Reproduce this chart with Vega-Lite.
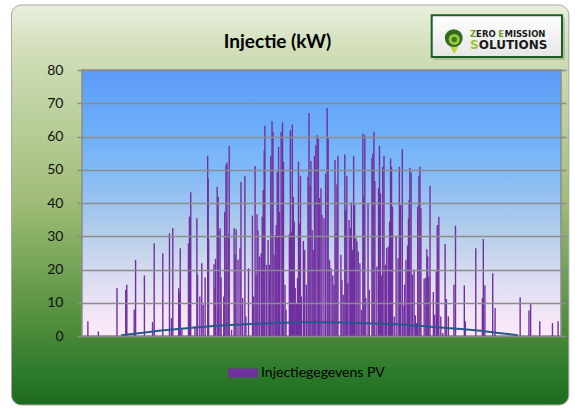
{
  "$schema": "https://vega.github.io/schema/vega-lite/v6.json",
  "width": 489,
  "height": 266,
  "autosize": {"type": "none"},
  "padding": {"left": 77, "top": 70, "right": 9, "bottom": 74},
  "background": "#ffffff",
  "title": {"text": "Injectie (kW)", "font": "Lato", "fontSize": 19, "fontWeight": "bold", "color": "#000000", "anchor": "middle", "frame": "group", "dx": -44, "offset": -48},
  "config": {
    "view": {"stroke": null},
    "axisY": {"orient": "left", "values": [0, 10, 20, 30, 40, 50, 60, 70, 80], "labelOverlap": false, "grid": true, "ticks": false, "domain": false, "labelPadding": 14, "labelFont": "Lato", "labelFontSize": 14, "labelColor": "#111111", "gridColor": "#8c8c8c", "gridWidth": 1.3, "zindex": 1}
  },
  "layer": [
    {
      "data": {"values": [{}]},
      "mark": {"type": "rect", "cornerRadius": 10, "stroke": "#a6a6a6", "strokeWidth": 1, "fill": {"gradient": "linear", "x1": 0, "y1": 0, "x2": 0, "y2": 1, "stops": [{"offset": 0, "color": "#e8efdd"}, {"offset": 0.11, "color": "#d2dfba"}, {"offset": 0.49, "color": "#a0bd78"}, {"offset": 0.82, "color": "#4a8a38"}, {"offset": 0.92, "color": "#2c7a2c"}, {"offset": 1, "color": "#1e6a1e"}]}},
      "encoding": {"x": {"datum": -72, "type": "quantitative", "axis": null}, "x2": {"datum": 497}, "y": {"datum": 99.55, "type": "quantitative", "scale": {"domain": [0, 80], "nice": false}, "axis": {"values": [0, 10, 20, 30, 40, 50, 60, 70, 80], "title": null, "zindex": 1}}, "y2": {"datum": -20.75}}
    },
    {
      "data": {"values": [{}]},
      "mark": {"type": "rect", "fill": "#9aa88f", "opacity": 0.6},
      "encoding": {"x": {"datum": 359, "type": "quantitative", "axis": null}, "x2": {"datum": 493}, "y": {"datum": 95.9, "type": "quantitative", "axis": {"values": [0, 10, 20, 30, 40, 50, 60, 70, 80], "title": null, "zindex": 1}}, "y2": {"datum": 83}}
    },
    {
      "data": {"values": [{}]},
      "mark": {"type": "rect", "stroke": "#1d5c24", "strokeWidth": 2, "fill": {"gradient": "linear", "x1": 0, "y1": 0, "x2": 0, "y2": 1, "stops": [{"offset": 0, "color": "#ffffff"}, {"offset": 1, "color": "#e6e6e6"}]}},
      "encoding": {"x": {"datum": 357, "type": "quantitative", "axis": null}, "x2": {"datum": 490}, "y": {"datum": 96.5, "type": "quantitative", "axis": {"values": [0, 10, 20, 30, 40, 50, 60, 70, 80], "title": null, "zindex": 1}}, "y2": {"datum": 83.9}}
    },
    {
      "data": {"values": [{}]},
      "mark": {"type": "point", "filled": true, "shape": "triangle-down", "size": 70, "color": "#b8d84a", "opacity": 1},
      "encoding": {"x": {"datum": 380, "type": "quantitative", "axis": null}, "y": {"datum": 85.9, "type": "quantitative", "axis": {"values": [0, 10, 20, 30, 40, 50, 60, 70, 80], "title": null, "zindex": 1}}}
    },
    {
      "data": {"values": [{}]},
      "mark": {"type": "point", "filled": true, "shape": "circle", "size": 320, "color": "#336b1f", "opacity": 1},
      "encoding": {"x": {"datum": 379.5, "type": "quantitative", "axis": null}, "y": {"datum": 89.6, "type": "quantitative", "axis": {"values": [0, 10, 20, 30, 40, 50, 60, 70, 80], "title": null, "zindex": 1}}}
    },
    {
      "data": {"values": [{}]},
      "mark": {"type": "point", "filled": true, "shape": "circle", "size": 120, "color": "#9ccc3c", "opacity": 1},
      "encoding": {"x": {"datum": 380, "type": "quantitative", "axis": null}, "y": {"datum": 89.2, "type": "quantitative", "axis": {"values": [0, 10, 20, 30, 40, 50, 60, 70, 80], "title": null, "zindex": 1}}}
    },
    {
      "data": {"values": [{}]},
      "mark": {"type": "point", "filled": true, "shape": "circle", "size": 30, "color": "#3f7a1f", "opacity": 1},
      "encoding": {"x": {"datum": 380, "type": "quantitative", "axis": null}, "y": {"datum": 89.2, "type": "quantitative", "axis": {"values": [0, 10, 20, 30, 40, 50, 60, 70, 80], "title": null, "zindex": 1}}}
    },
    {
      "data": {"values": [{"label": "ERO", "pos": 402.3}, {"label": "MISSION", "pos": 431.3}]},
      "mark": {"type": "text", "align": "left", "baseline": "middle", "font": "DejaVu Sans", "fontWeight": "bold", "fontSize": 8.5, "color": "#1a1a1a"},
      "encoding": {"x": {"field": "pos", "type": "quantitative", "axis": null}, "y": {"datum": 90.9, "type": "quantitative", "axis": {"values": [0, 10, 20, 30, 40, 50, 60, 70, 80], "title": null, "zindex": 1}}, "text": {"field": "label"}}
    },
    {
      "data": {"values": [{"label": "Z", "pos": 396}, {"label": "E", "pos": 425}]},
      "mark": {"type": "text", "align": "left", "baseline": "middle", "font": "DejaVu Sans", "fontWeight": "bold", "fontSize": 8.5, "color": "#6aa32a"},
      "encoding": {"x": {"field": "pos", "type": "quantitative", "axis": null}, "y": {"datum": 90.9, "type": "quantitative", "axis": {"values": [0, 10, 20, 30, 40, 50, 60, 70, 80], "title": null, "zindex": 1}}, "text": {"field": "label"}}
    },
    {
      "data": {"values": [{"label": "OLUTIONS"}]},
      "mark": {"type": "text", "align": "left", "baseline": "middle", "font": "DejaVu Sans", "fontWeight": "bold", "fontSize": 12, "color": "#1a1a1a"},
      "encoding": {"x": {"datum": 405, "type": "quantitative", "axis": null}, "y": {"datum": 87.6, "type": "quantitative", "axis": {"values": [0, 10, 20, 30, 40, 50, 60, 70, 80], "title": null, "zindex": 1}}, "text": {"field": "label"}}
    },
    {
      "data": {"values": [{"label": "S"}]},
      "mark": {"type": "text", "align": "left", "baseline": "middle", "font": "DejaVu Sans", "fontWeight": "bold", "fontSize": 12, "color": "#9bc23c"},
      "encoding": {"x": {"datum": 396, "type": "quantitative", "axis": null}, "y": {"datum": 87.6, "type": "quantitative", "axis": {"values": [0, 10, 20, 30, 40, 50, 60, 70, 80], "title": null, "zindex": 1}}, "text": {"field": "label"}}
    },
    {
      "data": {"values": [{}]},
      "mark": {"type": "rect", "stroke": "#8c8c8c", "strokeWidth": 1.5, "fill": {"gradient": "linear", "x1": 0, "y1": 0, "x2": 0, "y2": 1, "stops": [{"offset": 0, "color": "#5c9cf8"}, {"offset": 0.25, "color": "#6fb0fa"}, {"offset": 0.4, "color": "#86bcf6"}, {"offset": 0.5, "color": "#9cc3ef"}, {"offset": 0.625, "color": "#b8cfea"}, {"offset": 0.75, "color": "#d4daf0"}, {"offset": 0.875, "color": "#ebe3f5"}, {"offset": 1, "color": "#fdeaf8"}]}},
      "encoding": {"x": {"datum": 0, "type": "quantitative", "axis": null}, "x2": {"datum": 489}, "y": {"datum": 80, "type": "quantitative", "axis": {"values": [0, 10, 20, 30, 40, 50, 60, 70, 80], "title": null, "zindex": 1}}, "y2": {"datum": 0}}
    },
    {
      "data": {"values": [
        {"t": 6, "kw": 4.4}, {"t": 16.7, "kw": 1.4}, {"t": 35.7, "kw": 14.4}, {"t": 44.7, "kw": 13.9}, {"t": 45.3, "kw": 13.5}, {"t": 45.7, "kw": 15.4}, {"t": 53.3, "kw": 7.9}, {"t": 54.7, "kw": 22.9}, {"t": 63.7, "kw": 18.2}, {"t": 72, "kw": 4.2}, {"t": 73.7, "kw": 27.9},
        {"t": 82.5, "kw": 24.9}, {"t": 89.3, "kw": 30.9}, {"t": 91.3, "kw": 5.4}, {"t": 92.7, "kw": 32.4}, {"t": 98.7, "kw": 14.4}, {"t": 99.3, "kw": 12.9}, {"t": 100.3, "kw": 26.4}, {"t": 102, "kw": 2.4}, {"t": 108.7, "kw": 27.9}, {"t": 109.7, "kw": 35.9}, {"t": 110.3, "kw": 29}, {"t": 111, "kw": 43.2}, {"t": 115.3, "kw": 2.9}, {"t": 117.3, "kw": 35.4}, {"t": 118, "kw": 18.4}, {"t": 120.3, "kw": 11.9}, {"t": 122.3, "kw": 21.9}, {"t": 123.7, "kw": 9.4}, {"t": 125.7, "kw": 17.6}, {"t": 128.3, "kw": 54.2}, {"t": 128.8, "kw": 47.4}, {"t": 129.3, "kw": 29.1}, {"t": 134.7, "kw": 21.6}, {"t": 135.7, "kw": 14.6}, {"t": 136.3, "kw": 23.2}, {"t": 138, "kw": 44.9}, {"t": 139, "kw": 41.9}, {"t": 139.6, "kw": 31.6}, {"t": 141, "kw": 32.4}, {"t": 142, "kw": 17.7}, {"t": 144.7, "kw": 11.9}, {"t": 145.7, "kw": 37.4}, {"t": 147, "kw": 51.4}, {"t": 148, "kw": 52.1}, {"t": 149.3, "kw": 30.6}, {"t": 150.3, "kw": 57.2}, {"t": 152.7, "kw": 1.9}, {"t": 155.3, "kw": 32.4}, {"t": 156.3, "kw": 24.6}, {"t": 157.3, "kw": 32.1}, {"t": 159.3, "kw": 22.9}, {"t": 161.3, "kw": 26.4}, {"t": 162.3, "kw": 46.4},
        {"t": 164, "kw": 11.4}, {"t": 166.3, "kw": 48.2}, {"t": 167.3, "kw": 5.9}, {"t": 170, "kw": 20.4}, {"t": 174, "kw": 36.2}, {"t": 175.3, "kw": 11.9}, {"t": 176.7, "kw": 51.1}, {"t": 177.7, "kw": 18.4}, {"t": 178.7, "kw": 36.6}, {"t": 179.7, "kw": 31.7}, {"t": 181.3, "kw": 23.9}, {"t": 183, "kw": 24.9}, {"t": 184, "kw": 35.9}, {"t": 185, "kw": 43.9}, {"t": 186, "kw": 55.9}, {"t": 186.7, "kw": 63.2}, {"t": 188.3, "kw": 21.4}, {"t": 190, "kw": 28.9}, {"t": 191.3, "kw": 21.4}, {"t": 192.7, "kw": 54.1}, {"t": 194, "kw": 64.6}, {"t": 195, "kw": 61.4}, {"t": 196, "kw": 24.4}, {"t": 197.3, "kw": 30.4}, {"t": 198.3, "kw": 33.4}, {"t": 199.3, "kw": 49.4}, {"t": 200.7, "kw": 56.9}, {"t": 201.7, "kw": 37.4}, {"t": 203.3, "kw": 61.4}, {"t": 204.7, "kw": 64.2}, {"t": 205.7, "kw": 52.4}, {"t": 207.3, "kw": 15.4}, {"t": 208.3, "kw": 7.9}, {"t": 211.7, "kw": 30.6}, {"t": 212.7, "kw": 61.9}, {"t": 213.7, "kw": 31.4}, {"t": 214.7, "kw": 63.6}, {"t": 215.7, "kw": 41.9}, {"t": 216.7, "kw": 34.4}, {"t": 217.7, "kw": 14.4}, {"t": 219, "kw": 9.9}, {"t": 220, "kw": 17.4}, {"t": 221, "kw": 52.4}, {"t": 222, "kw": 33.9}, {"t": 223, "kw": 48.2}, {"t": 224, "kw": 11.9}, {"t": 226, "kw": 28.6}, {"t": 227.3, "kw": 25.9}, {"t": 229, "kw": 15.4}, {"t": 230.7, "kw": 47.9}, {"t": 231.7, "kw": 67.1}, {"t": 232.7, "kw": 45.2}, {"t": 233.7, "kw": 52.6}, {"t": 235, "kw": 31.9}, {"t": 236, "kw": 25.9}, {"t": 237.3, "kw": 54.2}, {"t": 238.7, "kw": 57.4}, {"t": 240, "kw": 60.4}, {"t": 241.3, "kw": 59.4}, {"t": 242.7, "kw": 41.4}, {"t": 244, "kw": 44.4}, {"t": 245, "kw": 36.4},
        {"t": 247, "kw": 35.4}, {"t": 248.7, "kw": 48.9}, {"t": 250.3, "kw": 68.6}, {"t": 251.3, "kw": 59.4}, {"t": 252.7, "kw": 22.9}, {"t": 254.3, "kw": 20.4}, {"t": 256, "kw": 18.2}, {"t": 257.3, "kw": 15.4}, {"t": 258.3, "kw": 52.9}, {"t": 259.3, "kw": 30.9}, {"t": 260.3, "kw": 45.6}, {"t": 261.3, "kw": 54.2}, {"t": 264.3, "kw": 24.4}, {"t": 265.3, "kw": 16.9}, {"t": 266.7, "kw": 12.4}, {"t": 268.3, "kw": 54.6}, {"t": 269.3, "kw": 37.9}, {"t": 270.3, "kw": 48.2}, {"t": 271.3, "kw": 15.9}, {"t": 272.7, "kw": 34.9}, {"t": 274, "kw": 32.4}, {"t": 275, "kw": 40.2}, {"t": 276, "kw": 25.9}, {"t": 277.3, "kw": 54.2}, {"t": 278.3, "kw": 39.4}, {"t": 279.7, "kw": 29.4}, {"t": 280.7, "kw": 28.4}, {"t": 282, "kw": 25.4}, {"t": 283.7, "kw": 21.9}, {"t": 285.3, "kw": 7.9}, {"t": 286.7, "kw": 60.8}, {"t": 287.7, "kw": 41.9}, {"t": 288.7, "kw": 60.4}, {"t": 289.7, "kw": 11.4}, {"t": 292, "kw": 39.9}, {"t": 293.3, "kw": 13.9}, {"t": 296, "kw": 53.6}, {"t": 297, "kw": 54.9}, {"t": 298, "kw": 61.4}, {"t": 299, "kw": 46.6}, {"t": 301, "kw": 20.9}, {"t": 302.7, "kw": 44.4}, {"t": 303.7, "kw": 57.2}, {"t": 304.7, "kw": 42.9}, {"t": 306, "kw": 18.2}, {"t": 307, "kw": 50.9}, {"t": 308.3, "kw": 54.2}, {"t": 309.7, "kw": 21.4}, {"t": 311, "kw": 26.4}, {"t": 312.7, "kw": 26.9}, {"t": 314, "kw": 34.4}, {"t": 315, "kw": 53.4}, {"t": 316, "kw": 50.9}, {"t": 317, "kw": 38.9}, {"t": 318.7, "kw": 5.9}, {"t": 320.7, "kw": 29.9}, {"t": 322.7, "kw": 23.4}, {"t": 324, "kw": 50.9}, {"t": 325.3, "kw": 39.4}, {"t": 327, "kw": 56.2},
        {"t": 328.7, "kw": 9.2}, {"t": 329.3, "kw": 15.4}, {"t": 330.7, "kw": 22.9}, {"t": 332.3, "kw": 27.2}, {"t": 333.3, "kw": 35.4}, {"t": 334, "kw": 40.9}, {"t": 334.7, "kw": 50.6}, {"t": 336, "kw": 49.2}, {"t": 337.3, "kw": 18.4}, {"t": 339, "kw": 19.9}, {"t": 340.3, "kw": 6.2}, {"t": 341.3, "kw": 3.9}, {"t": 342.7, "kw": 38.9}, {"t": 344, "kw": 48.2}, {"t": 345, "kw": 50.9}, {"t": 346, "kw": 38.4}, {"t": 349.3, "kw": 17.2}, {"t": 351, "kw": 17.6}, {"t": 352, "kw": 26.1}, {"t": 353, "kw": 23.9}, {"t": 354, "kw": 17.9}, {"t": 355.3, "kw": 45.2}, {"t": 358.7, "kw": 13.2}, {"t": 360, "kw": 6.4}, {"t": 361.7, "kw": 19.4}, {"t": 362.7, "kw": 33.4}, {"t": 363.3, "kw": 26.9}, {"t": 364.3, "kw": 35.9}, {"t": 366.3, "kw": 5.9}, {"t": 368.3, "kw": 0.9}, {"t": 370.7, "kw": 27.7}, {"t": 372, "kw": 11.1}, {"t": 374, "kw": 5.9}, {"t": 379.7, "kw": 15.4}, {"t": 381.3, "kw": 33.2}, {"t": 390.3, "kw": 15.2}, {"t": 391.3, "kw": 4.4}, {"t": 402, "kw": 26.4}, {"t": 408.7, "kw": 11.4}, {"t": 409.7, "kw": 29.2},
        {"t": 411.3, "kw": 15.2}, {"t": 419.3, "kw": 18.9}, {"t": 421.7, "kw": 8.4}, {"t": 447.3, "kw": 11.6}, {"t": 456.3, "kw": 7.7}, {"t": 458, "kw": 9.6}, {"t": 467.3, "kw": 4.4}, {"t": 480.3, "kw": 3.9}, {"t": 486, "kw": 4.4}
      ]},
      "mark": {"type": "bar", "width": 1.4, "opacity": 1},
      "encoding": {
        "x": {"field": "t", "type": "quantitative", "scale": {"domain": [0, 489], "nice": false, "zero": false}, "axis": null},
        "y": {"field": "kw", "type": "quantitative", "scale": {"domain": [0, 80], "nice": false}, "axis": {"values": [0, 10, 20, 30, 40, 50, 60, 70, 80], "title": null, "zindex": 1}},
        "color": {"datum": "Injectiegegevens PV", "type": "nominal", "scale": {"range": ["#7030a0"]}, "legend": {"title": null, "orient": "none", "legendX": 151, "legendY": 288, "direction": "horizontal", "symbolType": "M-1,-0.3H1V0.3H-1Z", "symbolSize": 900, "symbolStrokeWidth": 0, "symbolOpacity": 1, "labelFont": "Lato", "labelFontSize": 14, "labelColor": "#000000", "labelOffset": 3, "padding": 0}}
      }
    },
    {
      "data": {"values": [
        {"t": 40, "avg": 0.2}, {"t": 60, "avg": 0.9}, {"t": 76, "avg": 1.5}, {"t": 100, "avg": 2.2}, {"t": 126, "avg": 2.8}, {"t": 150, "avg": 3.3}, {"t": 173, "avg": 3.6}, {"t": 200, "avg": 3.9}, {"t": 226, "avg": 4.1}, {"t": 250, "avg": 4.15}, {"t": 270, "avg": 4.05}, {"t": 290, "avg": 3.85}, {"t": 320, "avg": 3.5}, {"t": 356, "avg": 2.8}, {"t": 390, "avg": 2.0}, {"t": 423, "avg": 1.0}, {"t": 445, "avg": 0.2}
      ]},
      "mark": {"type": "line", "color": "#245a8c", "strokeWidth": 2, "interpolate": "monotone"},
      "encoding": {
        "x": {"field": "t", "type": "quantitative", "axis": null},
        "y": {"field": "avg", "type": "quantitative", "axis": {"values": [0, 10, 20, 30, 40, 50, 60, 70, 80], "title": null, "zindex": 1}}
      }
    }
  ]
}
